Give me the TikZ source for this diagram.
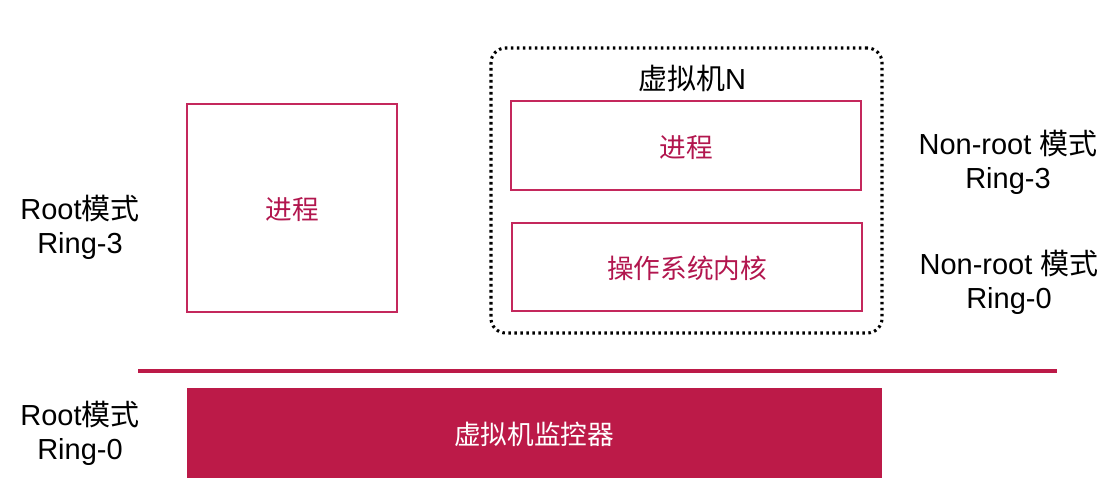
\documentclass[tikz,border=0pt]{standalone}
\usepackage{fontspec}
\setmainfont{Liberation Sans}
\newfontfamily\cjk{Noto Sans CJK SC}
\definecolor{crim}{RGB}{188,26,72}
\definecolor{boxline}{RGB}{196,40,92}
\definecolor{txtred}{RGB}{178,22,78}
\begin{document}
\begin{tikzpicture}[x=0.75pt,y=-0.75pt,
  lbl/.style={align=center,font=\fontsize{21.75}{25.5}\selectfont,text=black,inner sep=0pt},
  redtxt/.style={font=\fontsize{20}{24}\selectfont\cjk,text=txtred},
  pbox/.style={draw=boxline,line width=1.3pt,fill=white,inner sep=0pt},
  vmbox/.style={draw=black,line width=2.3pt,dash pattern=on 1.9pt off 2.6pt,rounded corners=11pt,inner sep=0pt}]
\useasboundingbox[fill=white] (0,0) rectangle (1117,502);
% left process box
\node[pbox,minimum width=157.5pt,minimum height=156pt] (lp) at (292,208) {};
\node[redtxt] (lpt) at (292,210) {进程};
% VM N dotted box
\node[vmbox,minimum width=293.25pt,minimum height=213.75pt] (vm) at (686.5,190.5) {};
\node[lbl] (vmt) at (692,78) {{\cjk 虚拟机}N};
\node[pbox,minimum width=262.5pt,minimum height=66.75pt] (vp) at (686,145.5) {};
\node[redtxt] (vpt) at (686,148) {进程};
\node[pbox,minimum width=262.5pt,minimum height=66pt] (vk) at (687,267) {};
\node[redtxt] (vkt) at (687,268) {操作系统内核};
% separator line
\coordinate (l1) at (138,371);
\coordinate (l2) at (1057,371);
\draw[crim,line width=2.6pt] (l1) -- (l2);
% hypervisor
\node[fill=crim,draw=crim,minimum width=520.5pt,minimum height=66.75pt,inner sep=0pt] (hv) at (534,432.5) {};
\node[font=\fontsize{20}{24}\selectfont\cjk,text=white] (hvt) at (534,434) {虚拟机监控器};
% labels
\node[lbl] (r3) at (80,227) {Root{\cjk 模式}\\Ring-3};
\node[lbl] (r0) at (80,433) {Root{\cjk 模式}\\Ring-0};
\node[lbl] (n3) at (1008,162) {Non-root {\cjk 模式}\\Ring-3};
\node[lbl] (n0) at (1009,282) {Non-root {\cjk 模式}\\Ring-0};
\end{tikzpicture}
\end{document}
